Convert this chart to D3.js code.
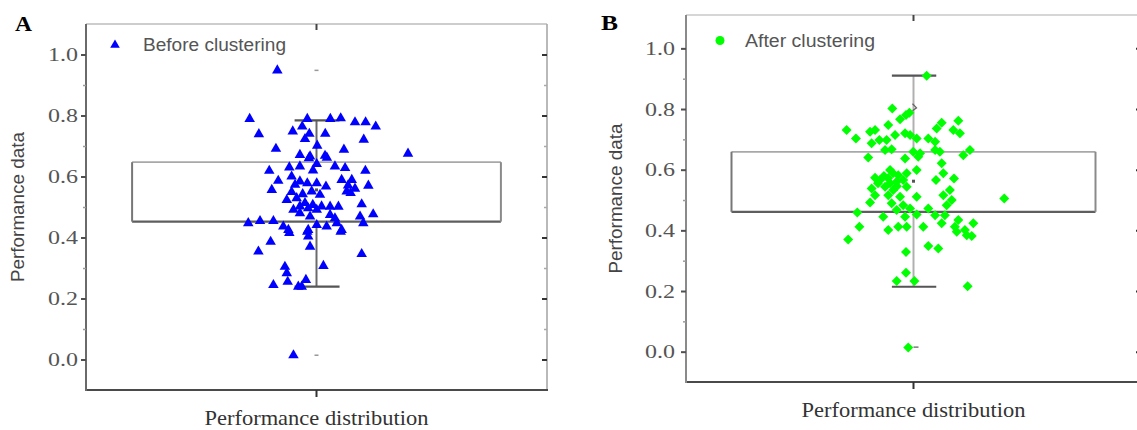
<!DOCTYPE html>
<html><head><meta charset="utf-8">
<script src="https://cdn.jsdelivr.net/npm/d3@7"></script>
<style>body{margin:0;background:#fff}svg{display:block}</style>
</head><body><svg id="c" width="1137" height="430"></svg>
<script>
// ---------- data ----------
const yTicks = [0.0, 0.2, 0.4, 0.6, 0.8, 1.0];
const yTickLabels = ["0.0", "0.2", "0.4", "0.6", "0.8", "1.0"];
const yMinorTicks = [0.1, 0.3, 0.5, 0.7, 0.9];
const panelLabels = ["A", "B"];
const legendLabels = ["Before clustering", "After clustering"];
const yTitle = "Performance data";
const xTitle = "Performance distribution";
// box stats: [whiskerLow, q1, mean, q3, whiskerHigh, lowMark, highMark]
const boxA = [0.239, 0.452, 0.556, 0.647, 0.784, 0.014, 0.948];
const boxB = [0.214, 0.461, 0.562, 0.659, 0.910, 0.015, 0.804];
// horizontal jitter (fraction of half panel width) and value of each point
const jitterA = [-0.17,-0.29,-0.04,0.06,0.105,0.167,0.213,0.257,-0.25,-0.103,-0.062,-0.031,0.038,-0.05,0.205,-0.176,-0.072,0.003,0.037,0.119,-0.028,0.397,
-0.033,0.001,0.045,0.08,0.124,-0.205,-0.118,0.212,-0.166,-0.108,-0.093,-0.072,-0.04,0.001,0.041,0.109,0.153,0.131,0.148,0.225,-0.194,-0.108,-0.06,-0.021,0.015,-0.129,-0.086,-0.05,-0.016,0.001,-0.036,0.059,0.095,0.196,-0.1,-0.072,-0.028,0.059,0.08,0.189,0.246,-0.296,-0.245,-0.187,-0.144,-0.122,-0.036,0.001,0.044,0.088,0.109,0.203,
-0.118,-0.04,0.105,-0.199,-0.036,-0.252,-0.028,0.196,0.03,-0.137,-0.129,-0.125,-0.187,-0.046,-0.079,-0.064,-0.1,
0.167,0.137,-0.072,-0.015,-0.072,0.022];
const valuesA = [0.948,0.789,0.789,0.789,0.791,0.778,0.778,0.764,0.739,0.748,0.764,0.740,0.740,0.723,0.721,0.691,0.671,0.701,0.668,0.688,0.666,0.675,
0.660,0.641,0.662,0.633,0.628,0.619,0.630,0.619,0.586,0.600,0.573,0.584,0.578,0.578,0.567,0.589,0.589,0.551,0.546,0.570,0.556,0.549,0.542,0.551,0.540,0.523,0.529,0.513,0.507,0.491,0.496,0.501,0.501,0.509,0.491,0.480,0.469,0.474,0.463,0.469,0.476,0.447,0.454,0.454,0.436,0.425,0.425,0.441,0.436,0.447,0.425,0.447,
0.415,0.419,0.419,0.386,0.403,0.354,0.370,0.346,0.307,0.304,0.283,0.255,0.244,0.261,0.239,0.239,0.014,
0.560,0.571,0.633,0.620,0.502,0.502];
const jitterB = [0.058,-0.093,-0.059,-0.033,-0.018,-0.294,-0.253,-0.191,-0.169,-0.111,-0.150,-0.081,-0.037,-0.015,0.014,-0.118,0.102,0.124,0.197,0.175,0.204,0.065,0.095,-0.125,-0.096,-0.001,0.029,0.095,0.116,0.248,0.219,-0.199,-0.184,
-0.037,0.021,0.124,-0.103,-0.169,-0.067,-0.03,0.014,0.131,0.099,0.178,-0.103,-0.074,-0.045,-0.125,-0.089,-0.184,-0.03,0.16,-0.169,-0.111,-0.059,0.014,0.131,0.168,0.399,-0.191,-0.096,-0.045,0.146,-0.015,-0.074,0.065,-0.247,0.014,0.095,-0.133,-0.037,0.138,0.197,0.263,-0.238,-0.111,-0.067,-0.03,0.043,0.124,0.182,0.226,
-0.287,0.19,0.234,0.256,0.065,0.109,-0.033,-0.033,-0.074,0.004,0.238,-0.023,
-0.147,-0.13,-0.112,-0.156,-0.09,-0.073];
const valuesB = [0.910,0.802,0.766,0.780,0.788,0.731,0.703,0.725,0.731,0.747,0.698,0.714,0.720,0.714,0.703,0.698,0.736,0.755,0.761,0.731,0.720,0.703,0.692,0.665,0.667,0.659,0.654,0.665,0.659,0.665,0.648,0.640,0.687,
0.637,0.643,0.621,0.599,0.573,0.582,0.588,0.599,0.588,0.566,0.571,0.555,0.560,0.566,0.544,0.533,0.538,0.544,0.533,0.516,0.516,0.511,0.511,0.516,0.500,0.505,0.492,0.489,0.483,0.483,0.472,0.467,0.472,0.459,0.452,0.450,0.445,0.445,0.450,0.434,0.423,0.412,0.401,0.412,0.412,0.412,0.423,0.412,0.401,
0.370,0.395,0.384,0.381,0.348,0.340,0.329,0.260,0.233,0.233,0.216,0.014,
0.566,0.579,0.572,0.555,0.588,0.545];

// ---------- layout ----------
const svg = d3.select("#c");
svg.append("rect").attr("width", 1137).attr("height", 430).attr("fill", "#fff");

const panels = [
  {label: panelLabels[0], legend: legendLabels[0], box: boxA, jit: jitterA, vals: valuesA,
   left: 86, right: 547, top: 24, bottom: 390, ydom: [-0.1, 1.1], color: "#0000ff", shape: "tri",
   labelX: 15, labelY: 31, tickGap: 8, yTitleX: 18, legX: 115, legY: 45, legTextX: 143, legTextW: 143,
   axisL: "#6a6a6a", axisB: "#4a4a4a", axisT: "#bdbdbd", axisR: "#a8a8a8", whisk: "#6a6a6a"},
  {label: panelLabels[1], legend: legendLabels[1], box: boxB, jit: jitterB, vals: valuesB,
   left: 686, right: 1141, top: 15, bottom: 382, ydom: [-0.1, 1.11], color: "#00ff00", shape: "dia",
   labelX: 601, labelY: 30, tickGap: 11, yTitleX: 616, legX: 720, legY: 40.5, legTextX: 745, legTextW: 130,
   axisL: "#8a8a8a", axisB: "#4a4a4a", axisT: "#c8c8c8", axisR: "#a8a8a8", whisk: "#b0b0b0"}
];

panels.forEach(p => {
  const g = svg.append("g");
  const y = d3.scaleLinear().domain(p.ydom).range([p.bottom, p.top]);
  const x = d3.scaleLinear().domain([-1, 1]).range([p.left, p.right]);
  const cx = x(0);

  // frame
  g.append("line").attr("x1", p.left).attr("x2", p.right).attr("y1", p.top).attr("y2", p.top)
    .attr("stroke", p.axisT).attr("stroke-width", 1.6);
  g.append("line").attr("x1", p.right).attr("x2", p.right).attr("y1", p.top).attr("y2", p.bottom)
    .attr("stroke", p.axisR).attr("stroke-width", 1.6);
  g.append("line").attr("x1", p.left).attr("x2", p.right + 1).attr("y1", p.bottom).attr("y2", p.bottom)
    .attr("stroke", p.axisB).attr("stroke-width", 2);

  // left axis with d3 axis
  const axL = d3.axisLeft(y).tickValues(yTicks).tickSize(5).tickPadding(p.tickGap - 5)
    .tickFormat((d, i) => yTickLabels[i]);
  const gl = g.append("g").attr("transform", `translate(${p.left},0)`).call(axL);
  gl.select(".domain").attr("stroke", p.axisL).attr("stroke-width", 2).attr("d", `M0,${p.top}V${p.bottom + 1}`);
  gl.selectAll(".tick line").attr("stroke", "#505050").attr("stroke-width", 2);
  gl.selectAll(".tick text").attr("fill", "#555").attr("font-family", "'Liberation Serif','Times New Roman',serif")
    .attr("font-size", 19).attr("textLength", 30).attr("lengthAdjust", "spacingAndGlyphs");
  // minor ticks left
  const glm = g.append("g").attr("transform", `translate(${p.left},0)`)
    .call(d3.axisLeft(y).tickValues(yMinorTicks).tickSize(3).tickFormat(""));
  glm.select(".domain").remove();
  glm.selectAll(".tick line").attr("stroke", "#9a9a9a").attr("stroke-width", 1.5);

  // right axis ticks (inward)
  const gr = g.append("g").attr("transform", `translate(${p.right},0)`)
    .call(d3.axisLeft(y).tickValues(yTicks).tickSize(-5).tickFormat(""));
  gr.select(".domain").remove();
  gr.selectAll(".tick line").attr("stroke", "#333").attr("stroke-width", 2).attr("x2", -5);
  const grm = g.append("g").attr("transform", `translate(${p.right},0)`)
    .call(d3.axisLeft(y).tickValues(yMinorTicks).tickSize(-3).tickFormat(""));
  grm.select(".domain").remove();
  grm.selectAll(".tick line").attr("stroke", "#aaa").attr("stroke-width", 1.5).attr("x2", -3);

  // top & bottom centre ticks
  g.append("line").attr("x1", cx).attr("x2", cx).attr("y1", p.top).attr("y2", p.top + 6)
    .attr("stroke", "#444").attr("stroke-width", 2);
  g.append("line").attr("x1", cx).attr("x2", cx).attr("y1", p.bottom).attr("y2", p.bottom + 7)
    .attr("stroke", "#333").attr("stroke-width", 2);

  const [wLo, q1, mean, q3, wHi, lowMark, highMark] = p.box;
  const bl = x(-0.8), br = x(0.8);
  // whisker
  g.append("line").attr("x1", cx).attr("x2", cx).attr("y1", y(wHi)).attr("y2", y(q3))
    .attr("stroke", p.whisk).attr("stroke-width", 2);
  g.append("line").attr("x1", cx).attr("x2", cx).attr("y1", y(q1)).attr("y2", y(wLo))
    .attr("stroke", p.whisk).attr("stroke-width", 2);
  [wLo, wHi].forEach(v => g.append("line").attr("x1", x(-0.095)).attr("x2", x(0.1))
    .attr("y1", y(v)).attr("y2", y(v)).attr("stroke", "#555").attr("stroke-width", 2.2));
  // box
  g.append("line").attr("x1", bl).attr("x2", br).attr("y1", y(q3)).attr("y2", y(q3)).attr("stroke", "#a8a8a8").attr("stroke-width", 1.8);
  g.append("line").attr("x1", bl).attr("x2", br).attr("y1", y(q1)).attr("y2", y(q1)).attr("stroke", "#5e5e5e").attr("stroke-width", 2.2);
  g.append("line").attr("x1", bl).attr("x2", bl).attr("y1", y(q3)).attr("y2", y(q1)).attr("stroke", "#777").attr("stroke-width", 2);
  g.append("line").attr("x1", br).attr("x2", br).attr("y1", y(q3)).attr("y2", y(q1)).attr("stroke", "#8a8a8a").attr("stroke-width", 2);
  // mean & marks
  g.append("rect").attr("x", cx - 1.5).attr("y", y(mean) - 1.5).attr("width", 3).attr("height", 3).attr("fill", "#555");
  if (p.shape === "tri") {
    [lowMark, highMark].forEach(v => g.append("line").attr("x1", cx - 2).attr("x2", cx + 2)
      .attr("y1", y(v)).attr("y2", y(v)).attr("stroke", "#999").attr("stroke-width", 1.5));
  } else {
    g.append("path").attr("d", `M${cx - 1},${y(highMark) - 4}L${cx + 3},${y(highMark)}L${cx - 1},${y(highMark) + 3}`)
      .attr("fill", "none").attr("stroke", "#666").attr("stroke-width", 1.3);
    g.append("line").attr("x1", cx).attr("x2", cx + 5).attr("y1", y(lowMark)).attr("y2", y(lowMark))
      .attr("stroke", "#666").attr("stroke-width", 1.3);
  }

  // points
  const sym = p.shape === "tri" ? d3.symbol(d3.symbolTriangle, 48) : d3.symbol(d3.symbolSquare, 50);
  const rot = p.shape === "tri" ? 0 : 45;
  g.append("g").selectAll("path").data(p.vals).join("path")
    .attr("d", sym)
    .attr("transform", (d, i) => `translate(${x(p.jit[i])},${y(d)}) rotate(${rot})`)
    .attr("fill", p.color);

  // legend
  if (p.shape === "tri") {
    g.append("path").attr("d", d3.symbol(d3.symbolTriangle, 40)).attr("transform", `translate(${p.legX},${p.legY})`).attr("fill", p.color);
  } else {
    g.append("circle").attr("cx", p.legX).attr("cy", p.legY).attr("r", 4.5).attr("fill", p.color);
  }
  g.append("text").attr("x", p.legTextX).attr("y", p.legY + 6).text(p.legend)
    .attr("font-family", "'Liberation Sans',Arial,sans-serif").attr("font-size", 18).attr("fill", "#555")
    .attr("textLength", p.legTextW).attr("lengthAdjust", "spacingAndGlyphs");

  // panel label
  g.append("text").attr("x", p.labelX).attr("y", p.labelY).text(p.label)
    .attr("font-family", "'Liberation Serif','Times New Roman',serif").attr("font-weight", "bold")
    .attr("font-size", 20).attr("fill", "#000").attr("textLength", 17).attr("lengthAdjust", "spacingAndGlyphs");

  // y title
  const ym = (p.top + p.bottom) / 2;
  g.append("text").attr("transform", `translate(${p.yTitleX + 6},${ym}) rotate(-90)`).attr("text-anchor", "middle")
    .text(yTitle).attr("font-family", "'Liberation Sans',Arial,sans-serif").attr("font-size", 18).attr("fill", "#444")
    .attr("textLength", 150).attr("lengthAdjust", "spacingAndGlyphs");

  // x title
  g.append("text").attr("x", cx).attr("y", p.bottom + 35).attr("text-anchor", "middle").text(xTitle)
    .attr("font-family", "'Liberation Serif','Times New Roman',serif").attr("font-size", 21).attr("fill", "#333")
    .attr("textLength", 224).attr("lengthAdjust", "spacingAndGlyphs");
});
</script></body></html>
